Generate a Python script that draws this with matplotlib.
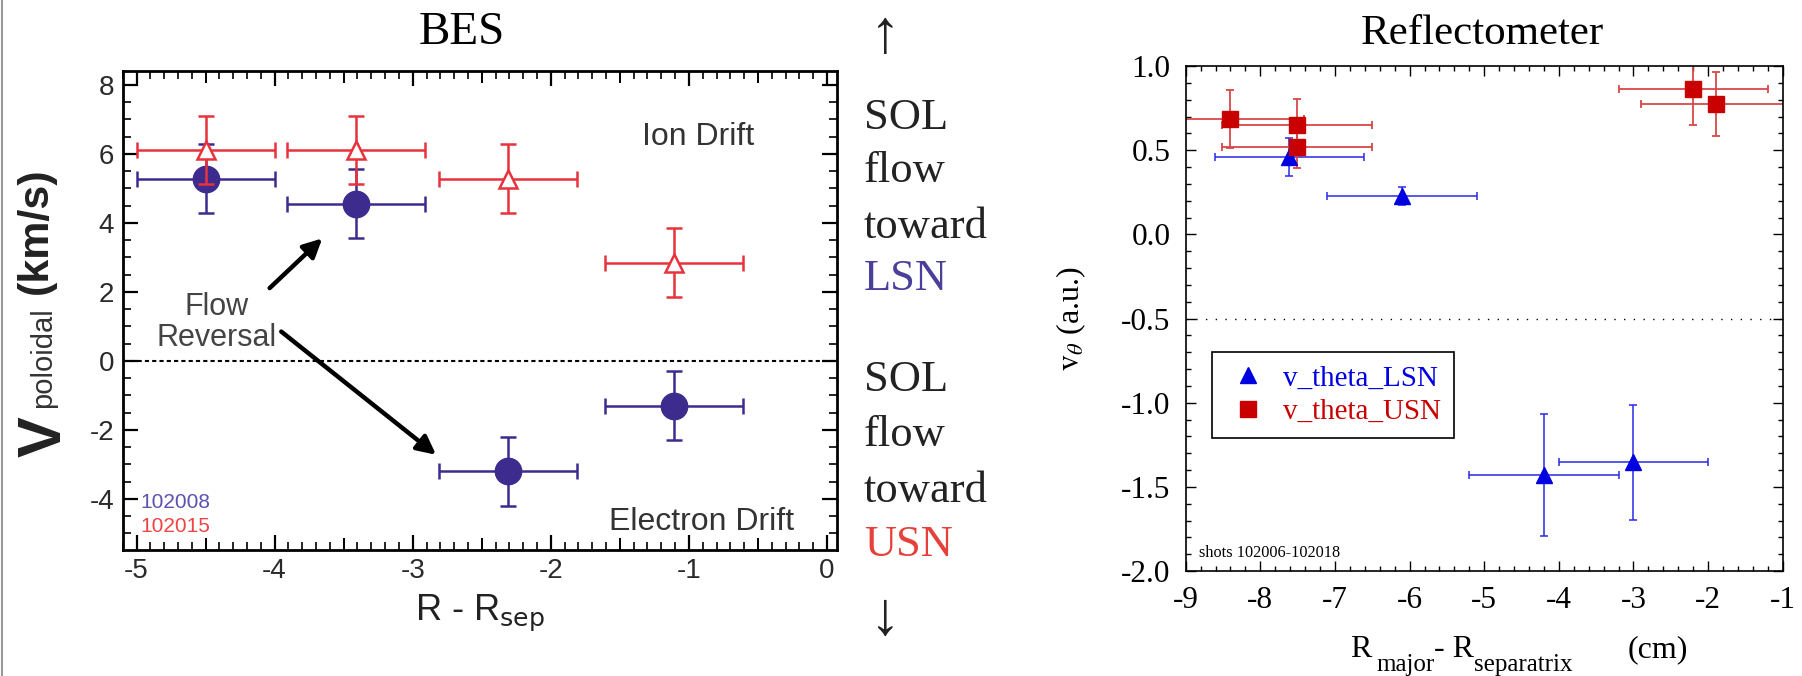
import matplotlib
matplotlib.use("Agg")
import numpy as np
import matplotlib.pyplot as plt
from matplotlib.ticker import MultipleLocator, FormatStrFormatter, FixedLocator
from matplotlib.lines import Line2D

plt.rcParams['axes.unicode_minus'] = False

# ---------------- BES data (left panel) ----------------
bes_x = [-4.5, -3.41, -2.31, -1.11]
bes_xerr = [0.5, 0.5, 0.5, 0.5]
bes_102008_y = [5.28, 4.55, -3.2, -1.3]          # LSN shot (blue, filled circles)
bes_102008_yerr = [1.0, 1.0, 1.0, 1.0]
bes_102015_y = [6.12, 6.12, 5.28, 2.85]          # USN shot (red, open triangles)
bes_102015_yerr = [0.98, 0.98, 1.0, 1.0]

# ---------------- Reflectometer data (right panel) ----------------
lsn_x = [-7.61, -6.10, -4.20, -3.00]
lsn_xerr = [1.0, 1.0, 1.0, 1.0]
lsn_y = [0.46, 0.228, -1.43, -1.355]
lsn_yerr = [0.113, 0.056, 0.36, 0.34]

usn_x = [-8.41, -7.51, -7.51, -2.20, -1.90]
usn_xerr = [1.0, 1.0, 1.0, 1.0, 1.0]
usn_y = [0.685, 0.647, 0.52, 0.862, 0.775]
usn_yerr = [0.17, 0.155, 0.125, 0.214, 0.19]

W, H = 1802, 676
fig = plt.figure(figsize=(W / 100, H / 100), dpi=100)

def fx(px):
    return px / W

def fy(py):
    return 1 - py / H

SANS = ['Liberation Sans', 'DejaVu Sans']
SERIF = ['Liberation Serif', 'DejaVu Serif']

# thin gray border line at left edge
fig.add_artist(Line2D([fx(1.5), fx(1.5)], [0, 1], color='#999999', lw=1.5))

# ================= Left panel =================
rect1 = [fx(122.7), fy(550), fx(836.7 - 122.7), (550 - 70.7) / H]
ax1 = fig.add_axes(rect1)
blue = '#3D2B8E'
red = '#E8323C'
ax1.errorbar(bes_x, bes_102008_y, xerr=bes_xerr, yerr=bes_102008_yerr, fmt='o',
             color=blue, ms=19, lw=1.8, capsize=6, capthick=1.8, zorder=3)
ax1.errorbar(bes_x, bes_102015_y, xerr=bes_xerr, yerr=bes_102015_yerr, fmt='^',
             color=red, mfc='white', mec=red, mew=1.8, ms=13, lw=1.8, capsize=6,
             capthick=1.8, zorder=4)
ax1.axhline(0, color='black', lw=1.5, ls=(0, (2, 1.5)), zorder=1)
xlim1 = (-5.10, 0.07)
ylim1 = (-5.48, 8.41)
ax1.set_xlim(*xlim1)
ax1.set_ylim(*ylim1)
ax1.xaxis.set_major_locator(MultipleLocator(1))
ax1.xaxis.set_minor_locator(MultipleLocator(0.1))
ax1.yaxis.set_major_locator(MultipleLocator(2))
ax1.yaxis.set_minor_locator(MultipleLocator(0.5))
ax1.xaxis.set_major_formatter(FormatStrFormatter('%d'))
ax1.yaxis.set_major_formatter(FormatStrFormatter('%d'))
ax1.tick_params(which='both', direction='in', top=True, right=True, colors='black')
ax1.tick_params(which='major', length=11, width=1.6, labelsize=20, pad=6,
                labelcolor='#2a2a2a')
ax1.tick_params(which='minor', length=6, width=1.2)
for lab in ax1.get_xticklabels() + ax1.get_yticklabels():
    lab.set_family(SANS)
for s in ax1.spines.values():
    s.set_linewidth(2.0)

# medium-length ticks at the half-integers (overlay axes, no labels)
axm = fig.add_axes(rect1, frameon=False)
axm.set_xlim(*xlim1)
axm.set_ylim(*ylim1)
axm.xaxis.set_major_locator(FixedLocator(np.arange(-4.5, 0, 1.0)))
axm.set_yticks([])
axm.tick_params(axis='x', direction='in', top=True, bottom=True, length=8.5,
                width=1.4, labelbottom=False, labeltop=False)
axm.patch.set_visible(False)

ax1.text(-0.53, 6.25, 'Ion Drift', ha='right', va='baseline', fontsize=23,
         color='#333333', family=SANS)
ax1.text(-0.236, -4.9, 'Electron Drift', ha='right', va='baseline', fontsize=23,
         color='#333333', family=SANS)
ax1.text(-4.417, 1.33, 'Flow', ha='center', va='baseline', fontsize=22,
         color='#444444', family=SANS)
ax1.text(-4.417, 0.43, 'Reversal', ha='center', va='baseline', fontsize=22,
         color='#444444', family=SANS)
ax1.text(-4.97, -4.26, '102008', ha='left', va='baseline', fontsize=15,
         color='#5B52B0', family=SANS)
ax1.text(-4.97, -4.96, '102015', ha='left', va='baseline', fontsize=15,
         color='#EE4444', family=SANS)
arrow_kw = dict(arrowstyle='-|>', lw=3.2, color='black', mutation_scale=28,
                shrinkA=0, shrinkB=0)
ax1.annotate('', xy=(-3.655, 3.55), xytext=(-4.036, 2.11), arrowprops=arrow_kw)
ax1.annotate('', xy=(-2.831, -2.72), xytext=(-3.952, 0.85), arrowprops=arrow_kw)

ax1.set_xlabel(r'R - R$_{\mathrm{sep}}$', fontsize=26, family=SANS, labelpad=6,
               math_fontfamily='dejavusans', color='#222222')

# y label built from pieces (rotated)
fig.text(fx(61), fy(457), 'V', rotation=90, rotation_mode='anchor', ha='left',
         va='baseline', fontsize=44, fontweight='bold', family=SANS, color='#222222')
fig.text(fx(51), fy(408), 'poloidal', rotation=90, rotation_mode='anchor', ha='left',
         va='baseline', fontsize=21, family=SANS, color='#333333')
fig.text(fx(47), fy(294), '(km/s)', rotation=90, rotation_mode='anchor', ha='left',
         va='baseline', fontsize=31, fontweight='bold', family=SANS, color='#222222')

fig.text(fx(462), fy(44), 'BES', ha='center', va='baseline', fontsize=34,
         family=SERIF, color='black')

# ================= Middle text column =================
mid_x = fx(864)
mid_lines = [('SOL', 129, '#222222'), ('flow', 182, '#222222'),
             ('toward', 238, '#222222'), ('LSN', 290, '#4A3F9A'),
             ('SOL', 391, '#222222'), ('flow', 446, '#222222'),
             ('toward', 502, '#222222'), ('USN', 556, '#E5403A')]
for txt, yb, col in mid_lines:
    fig.text(mid_x, fy(yb), txt, ha='left', va='baseline', fontsize=32,
             family=SERIF, color=col)
fig.text(fx(885), fy(37), '\u2191', ha='center', va='center', fontsize=44,
         family=SERIF, color='#222222')
fig.text(fx(885), fy(619), '\u2193', ha='center', va='center', fontsize=44,
         family=SERIF, color='#222222')

# ================= Right panel =================
ax2 = fig.add_axes([fx(1185.7), fy(571), fx(1782.7 - 1185.7), (571 - 66) / H])
rblue = '#0000E0'
rred = '#C80000'
ax2.axhline(-0.5, color='black', lw=1.0, ls=(0, (1, 6)), zorder=1)
ax2.errorbar(lsn_x, lsn_y, xerr=lsn_xerr, yerr=lsn_yerr, fmt='none',
             ecolor='#2a2ae6', elinewidth=1.1, capsize=3, capthick=1.1, zorder=2)
ax2.errorbar(usn_x, usn_y, xerr=usn_xerr, yerr=usn_yerr, fmt='none',
             ecolor='#d84848', elinewidth=1.3, capsize=3, capthick=1.3, zorder=2)
ax2.plot(lsn_x, lsn_y, ls='none', marker='^', ms=11, color=rblue,
         label='v_theta_LSN', zorder=3)
ax2.plot(usn_x, usn_y, ls='none', marker='s', ms=11, color=rred,
         label='v_theta_USN', zorder=3)
ax2.set_xlim(-9, -1)
ax2.set_ylim(-2, 1)
ax2.xaxis.set_major_locator(MultipleLocator(1))
ax2.xaxis.set_minor_locator(MultipleLocator(0.2))
ax2.yaxis.set_major_locator(MultipleLocator(0.5))
ax2.yaxis.set_minor_locator(MultipleLocator(0.1))
ax2.xaxis.set_major_formatter(FormatStrFormatter('%d'))
ax2.yaxis.set_major_formatter(FormatStrFormatter('%.1f'))
ax2.tick_params(which='both', direction='in', top=True, right=True)
ax2.tick_params(which='major', length=7, width=1.0, labelsize=22.5, pad=11)
ax2.tick_params(which='minor', length=3.6, width=1.0)
for lab in ax2.get_xticklabels() + ax2.get_yticklabels():
    lab.set_family(SERIF)
for s in ax2.spines.values():
    s.set_linewidth(1.2)

leg = ax2.legend(loc='upper left', bbox_to_anchor=(0.0436, 0.434), borderaxespad=0,
                 frameon=True, fancybox=False, edgecolor='black', framealpha=1,
                 prop={'family': SERIF, 'size': 21}, labelcolor='linecolor',
                 borderpad=0.45, handlelength=1.6, handletextpad=0.4,
                 labelspacing=0.25, numpoints=1)
leg.get_frame().set_linewidth(1.2)

ax2.text(-8.82, -1.917, 'shots 102006-102018', ha='left', va='baseline',
         fontsize=11.7, family=SERIF)

ax2.set_ylabel(r'$\mathrm{v}_{\theta}$ (a.u.)', fontsize=23, family=SERIF,
               math_fontfamily='stix', labelpad=24)

fig.text(fx(1482), fy(44), 'Reflectometer', ha='center', va='baseline', fontsize=31,
         family=SERIF)

# x label pieces with low subscripts
xl_base = fy(657)
sub_base = fy(671)
fig.text(fx(1350), xl_base, 'R', ha='left', va='baseline', fontsize=23, family=SERIF)
fig.text(fx(1376), sub_base, 'major', ha='left', va='baseline', fontsize=18, family=SERIF)
fig.text(fx(1434), xl_base, '- R', ha='left', va='baseline', fontsize=23, family=SERIF)
fig.text(fx(1474), sub_base, 'separatrix', ha='left', va='baseline', fontsize=18,
         family=SERIF)
fig.text(fx(1628), xl_base, '(cm)', ha='left', va='baseline', fontsize=23, family=SERIF)

fig.savefig('out.png', dpi=100)
